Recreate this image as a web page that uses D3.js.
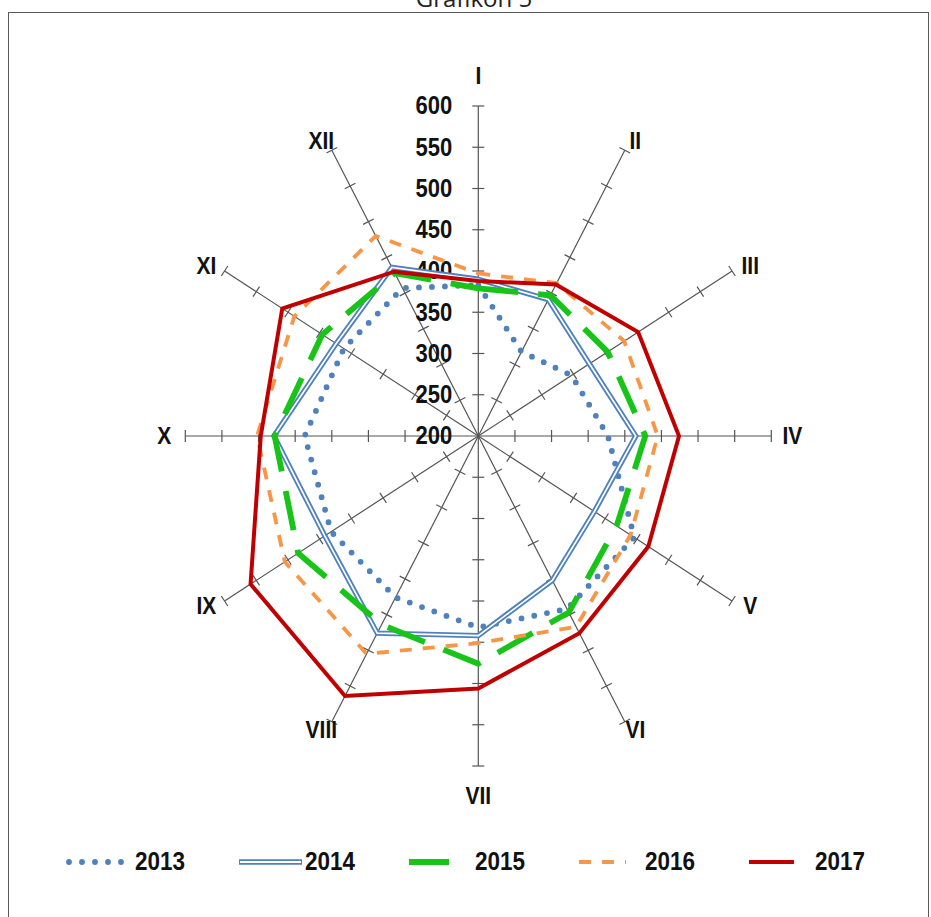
<!DOCTYPE html>
<html><head><meta charset="utf-8">
<script src="https://cdn.jsdelivr.net/npm/d3@7/dist/d3.min.js"></script>
<style>body{margin:0;background:#fff;overflow:hidden}</style>
</head><body>
<svg id="chart" width="931" height="917"></svg>
<script>
// ---------- data ----------
const axesLabels = ["I","II","III","IV","V","VI","VII","VIII","IX","X","XI","XII"];
const tickValues = [200,250,300,350,400,450,500,550,600];
const years = ["2013","2014","2015","2016","2017"];
const v2013 = [383,318,347,377,446,442,432,426,432,437,412,407];
const v2014 = [390,391,375,415,383,402,442,476,442,479,424,436];
const v2015 = [379,397,404,428,418,447,476,464,484,478,446,428];
const v2016 = [397,414,430,445,440,467,451,505,505,502,490,480];
const v2017 = [388,412,452,474,468,476,506,564,559,497,509,430];
const seriesValues = [v2013, v2014, v2015, v2016, v2017];

// ---------- layout ----------
const cx = 478.3, cy = 436;
const RX = 293, RY = 330;
const SY = 1.13; // vertical stretch of the original picture
const svg = d3.select("#chart");

const rx = d3.scaleLinear().domain([200,600]).range([0,RX]);
const ry = d3.scaleLinear().domain([200,600]).range([0,RY]);
const angle = d3.scalePoint().domain(axesLabels).range([0, 2*Math.PI*11/12]);
const px = (lab, v) => cx + rx(v)*Math.sin(angle(lab));
const py = (lab, v) => cy - ry(v)*Math.cos(angle(lab));

function stretchedText(g, x, y, txt, opts) {
  const t = g.append("text")
    .attr("transform", `translate(${x},${y}) scale(1,${SY})`)
    .attr("text-anchor", opts.anchor || "middle")
    .attr("dominant-baseline","central")
    .attr("font-family", opts.family || "'Liberation Sans', Arial, sans-serif")
    .attr("font-weight","bold").attr("font-size",opts.size).attr("fill","#111").text(txt);
  if (opts.len) t.attr("textLength",opts.len).attr("lengthAdjust","spacingAndGlyphs");
  return t;
}

// frame + title
svg.append("rect").attr("x",8.5).attr("y",12.5).attr("width",920).attr("height",940)
  .attr("fill","none").attr("stroke","#5a5a5a").attr("stroke-width",1);
svg.append("text").attr("x",474).attr("y",7).attr("text-anchor","middle")
  .attr("font-family","'Open Sans', 'Noto Sans', sans-serif").attr("font-size",24)
  .attr("fill","#222").text("Grafikon 5");

// axes
const gAx = svg.append("g");
axesLabels.forEach(lab => {
  const a = angle(lab);
  gAx.append("line")
    .attr("x1",cx).attr("y1",cy).attr("x2",px(lab,600)).attr("y2",py(lab,600))
    .attr("stroke","#555").attr("stroke-width",1.2);
  let dx = RX*Math.sin(a), dy = -RY*Math.cos(a);
  const len = Math.hypot(dx,dy); dx/=len; dy/=len;
  const nx = -dy, ny = dx, hl = 6;
  tickValues.filter(t => t>200).forEach(t => {
    const x = px(lab,t), y = py(lab,t);
    gAx.append("line").attr("x1",x-nx*hl).attr("y1",y-ny*hl).attr("x2",x+nx*hl).attr("y2",y+ny*hl)
      .attr("stroke","#555").attr("stroke-width",1.2);
  });
  const vert = Math.abs(Math.sin(a)) < 0.01 ? 20 : 0;
  const lx = px(lab,600) + 21*Math.sin(a);
  const ly = py(lab,600) - Math.cos(a)*(10+vert);
  stretchedText(gAx, lx, ly, lab, {size:21});
});

// tick labels along axis I
tickValues.forEach(t => {
  stretchedText(svg, cx-26, py("I",t), t, {size:22, anchor:"end"});
});

// series styles
const styles = [
  {color:"#4F81BD", width:5.8, dash:"0 13", cap:"round"},
  {color:"#4F81BD", width:5.4, dash:null, cap:"butt", dbl:true},
  {color:"#17C417", width:5.8, dash:"40 20", cap:"butt"},
  {color:"#F79646", width:3.8, dash:"12 11", cap:"butt"},
  {color:"#C00000", width:4, dash:null, cap:"butt"}
];

const line = d3.line().x(d => px(d.lab,d.v)).y(d => py(d.lab,d.v)).curve(d3.curveLinearClosed);
const gS = svg.append("g");
seriesValues.forEach((vals,i) => {
  const pts = axesLabels.map((lab,j) => ({lab, v: vals[j]}));
  const s = styles[i];
  const p = gS.append("path").attr("d", line(pts)).attr("fill","none")
    .attr("stroke",s.color).attr("stroke-width",s.width).attr("stroke-linecap",s.cap)
    .attr("stroke-linejoin","miter");
  if (s.dash) p.attr("stroke-dasharray", s.dash);
  if (s.dbl) gS.append("path").attr("d", line(pts)).attr("fill","none")
    .attr("stroke","#fff").attr("stroke-width",1.7);
});

// legend
const lg = svg.append("g");
const keyLen = [56, 63, 45, 47, 45];
years.forEach((yr,i) => {
  const x0 = 69 + 170*i, y0 = 862;
  const s = styles[i];
  const l = lg.append("line").attr("x1",x0).attr("x2",x0+keyLen[i]).attr("y1",y0).attr("y2",y0)
    .attr("stroke",s.color).attr("stroke-width",s.width).attr("stroke-linecap",s.cap);
  if (s.dash) l.attr("stroke-dasharray", s.dash);
  if (s.dbl) lg.append("line").attr("x1",x0+1).attr("x2",x0+keyLen[i]-1).attr("y1",y0).attr("y2",y0)
    .attr("stroke","#fff").attr("stroke-width",2);
  stretchedText(lg, x0+66, y0, yr, {size:22, anchor:"start", len:50,
    family:"'Liberation Sans Narrow', 'Arial Narrow', 'Liberation Sans', Arial, sans-serif"});
});
</script>
</body></html>
